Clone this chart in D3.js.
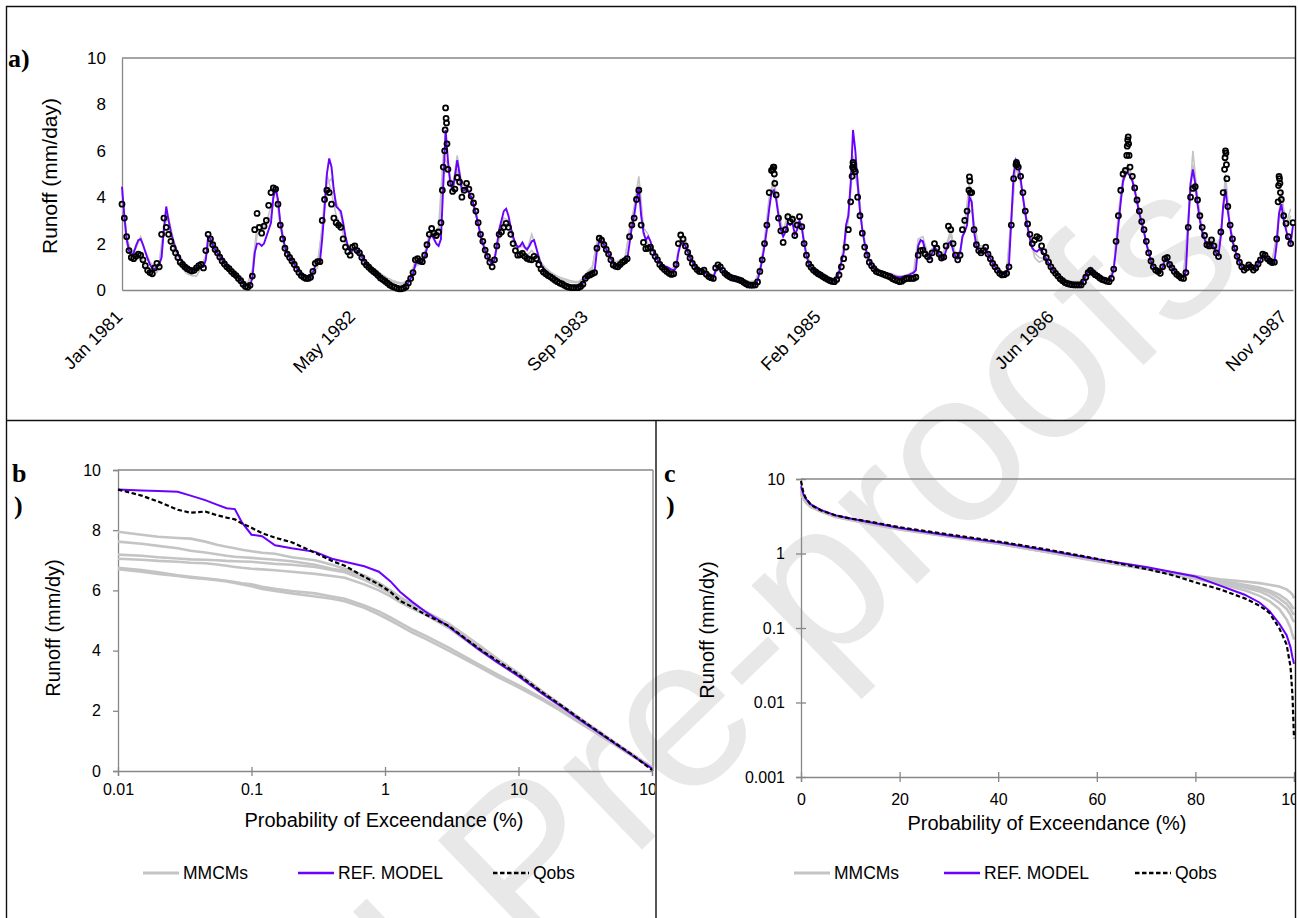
<!DOCTYPE html>
<html>
<head>
<meta charset="utf-8">
<script src="https://cdn.jsdelivr.net/npm/d3@7"></script>
<style>
  body { margin: 0; background: #fff; }
</style>
</head>
<body>
<svg id="figure" width="1298" height="918"></svg>
<script>
// ---------- data: a) hydrograph, one value every OBS_STEP_DAYS from SERIES_START ----------
const SERIES_START = '1981-01-01';
const OBS_STEP_DAYS = 5;
const obsRunoff = [
  3.7, 3.1, 2.3, 1.7, 1.4, 1.35, 1.45, 1.55, 1.5, 1.3,
  1.05, 0.85, 0.75, 0.7, 0.95, 1.15, 1.0, 2.4, 3.1, 2.7,
  2.4, 2.1, 1.8, 1.6, 1.4, 1.2, 1.1, 1.0, 0.92, 0.86,
  0.82, 0.85, 0.95, 1.05, 1.1, 0.95, 1.7, 2.4, 2.2, 1.95,
  1.75, 1.6, 1.42, 1.25, 1.12, 1.0, 0.92, 0.8, 0.7, 0.62,
  0.5, 0.4, 0.25, 0.15, 0.12, 0.2, 0.6, 2.6, 3.3, 2.7,
  2.45, 2.75, 3.0, 3.65, 4.2, 4.4, 4.35, 3.7, 2.8, 2.2,
  1.8, 1.55, 1.4, 1.25, 1.1, 0.9, 0.75, 0.62, 0.55, 0.5,
  0.5, 0.55, 0.8, 1.15, 1.22, 1.22, 3.0, 3.9, 4.3, 4.2,
  3.7, 3.1, 2.9, 2.8, 2.7, 2.2, 1.85, 1.65, 1.5, 1.85,
  1.9, 1.7, 1.6, 1.4, 1.2, 1.08, 0.98, 0.88, 0.8, 0.72,
  0.62, 0.52, 0.45, 0.38, 0.3, 0.22, 0.16, 0.12, 0.08, 0.05,
  0.05, 0.08, 0.14, 0.3, 0.5, 0.75, 1.3, 1.35, 1.25, 1.22,
  1.5, 1.95, 2.4, 2.65, 2.45, 2.35, 2.5, 2.9, 5.3, 7.85,
  5.2, 4.6, 4.25, 4.35, 4.85, 4.65, 4.0, 4.3, 4.6, 4.35,
  4.05, 3.75, 3.4, 2.9, 2.4, 2.1, 1.72, 1.45, 1.2, 1.0,
  1.3, 1.9, 2.4, 2.5, 2.7, 2.87, 2.7, 2.4, 2.0, 1.7,
  1.5, 1.52, 1.58, 1.45, 1.36, 1.32, 1.3, 1.45, 1.35, 1.1,
  0.9, 0.78, 0.7, 0.62, 0.57, 0.5, 0.42, 0.36, 0.3, 0.26,
  0.2, 0.15, 0.12, 0.1, 0.1, 0.1, 0.1, 0.15, 0.25, 0.5,
  0.6, 0.65, 0.7, 0.75, 1.8, 2.23, 2.15, 1.95, 1.75, 1.55,
  1.3, 1.08, 1.02, 1.0, 1.1, 1.2, 1.26, 1.35, 2.3, 2.8,
  3.1, 3.9, 4.3, 2.8, 2.05, 1.78, 1.8, 1.85, 1.62, 1.45,
  1.3, 1.1, 0.98, 0.88, 0.8, 0.72, 0.67, 0.7, 1.1, 2.0,
  2.37, 2.2, 1.9, 1.62, 1.38, 1.15, 1.0, 0.88, 0.8, 0.79,
  0.86, 0.68, 0.58, 0.53, 0.5, 0.95, 1.08, 1.0, 0.85, 0.72,
  0.64, 0.57, 0.52, 0.5, 0.47, 0.44, 0.4, 0.33, 0.27, 0.22,
  0.21, 0.21, 0.22, 0.35, 0.8, 1.3, 2.0, 2.8, 4.2, 5.15,
  5.3, 4.1, 3.1, 2.55, 2.05, 2.6, 3.16, 2.95, 3.05, 2.35,
  2.8, 3.16, 2.73, 2.0, 1.5, 1.12, 0.98, 0.86, 0.78, 0.7,
  0.65, 0.58, 0.52, 0.46, 0.41, 0.37, 0.36, 0.45, 0.65, 1.0,
  1.35, 1.85, 2.6, 3.8, 5.5, 5.1, 4.0, 3.2, 2.45, 1.85,
  1.5, 1.2, 1.05, 0.92, 0.8, 0.75, 0.72, 0.68, 0.64, 0.6,
  0.56, 0.48, 0.44, 0.4, 0.36, 0.38, 0.45, 0.5, 0.5, 0.5,
  0.5, 0.55, 1.5, 1.7, 1.72, 1.55, 1.44, 1.3, 1.6, 2.0,
  1.8, 1.55, 1.38, 1.42, 1.9, 2.75, 2.6, 2.0, 1.5, 1.3,
  1.5, 2.6, 3.0, 3.4, 4.88, 4.2, 2.6, 1.95, 1.7, 1.6,
  1.7, 1.85, 1.55, 1.35, 1.15, 1.0, 0.85, 0.72, 0.65, 0.66,
  0.72, 1.0, 2.8, 4.8, 5.4, 5.3, 4.9, 4.2, 3.4, 2.85,
  2.4, 2.0, 2.15, 2.3, 2.23, 1.9, 1.65, 1.4, 1.2, 1.0,
  0.84, 0.72, 0.6, 0.48, 0.4, 0.32, 0.28, 0.25, 0.23, 0.22,
  0.22, 0.22, 0.22, 0.35, 0.55, 0.75, 0.84, 0.75, 0.66, 0.6,
  0.52, 0.45, 0.42, 0.38, 0.36, 0.5, 0.9, 2.1, 3.2, 4.3,
  5.0, 5.15, 6.47, 5.3, 4.9, 4.4, 3.88, 3.4, 2.95, 2.6,
  2.1, 1.6, 1.25, 1.0, 0.86, 0.8, 0.72, 1.0, 1.35, 1.4,
  1.1, 0.95, 0.8, 0.68, 0.6, 0.52, 0.5, 0.75, 2.7, 4.0,
  4.38, 4.45, 3.88, 3.2, 2.7, 2.35, 1.95, 1.9, 2.16, 1.9,
  1.6, 1.44, 2.5, 4.2, 6.0, 3.6, 2.8, 2.2, 1.8, 1.45,
  1.2, 1.0, 0.86, 0.95, 1.08, 0.98, 0.86, 0.95, 1.12, 1.3,
  1.55, 1.5, 1.35, 1.25, 1.18, 1.2, 2.2, 4.9, 3.9, 3.2,
  2.87, 2.3, 2.0, 2.9
];
// extra daily observations read around the flood peaks (day offset from SERIES_START)
const obsPeakDays = [688, 693, 694, 696, 697, 698,
  1398, 1399, 1401, 1402, 1568, 1569, 1571, 1572, 1819, 1821, 1822, 1921, 1922,
  2158, 2159, 2161, 2162, 2163, 2368, 2369, 2371, 2372, 2373, 2483, 2484, 2486, 2487, 2488];
const obsPeakRunoff = [4.3, 6.0, 6.9, 7.4, 7.2, 6.3,
  5.2, 5.3, 5.0, 4.6, 4.9, 5.3, 5.4, 5.2, 4.3, 4.7, 4.2, 5.5, 5.4,
  5.8, 6.2, 6.6, 6.3, 5.8, 5.2, 5.7, 5.9, 5.4, 4.8, 3.8, 4.5, 4.8, 4.6, 4.2];
const refRunoff = [
  4.45, 3.2, 2.2, 1.7, 1.5, 1.6, 1.9, 2.15, 2.2, 1.95,
  1.65, 1.35, 1.1, 0.95, 0.9, 1.0, 1.1, 1.4, 2.6, 3.6,
  3.0, 2.5, 2.1, 1.8, 1.55, 1.35, 1.2, 1.08, 0.98, 0.9,
  0.85, 0.85, 0.9, 0.95, 1.0, 1.0, 1.3, 2.3, 2.2, 1.95,
  1.75, 1.6, 1.45, 1.3, 1.15, 1.02, 0.92, 0.8, 0.7, 0.62,
  0.52, 0.42, 0.3, 0.22, 0.18, 0.22, 0.5, 1.6, 2.0, 2.0,
  1.9, 2.0, 2.3, 2.6, 2.9, 4.0, 4.4, 3.9, 2.9, 2.3,
  1.85, 1.6, 1.42, 1.27, 1.12, 0.95, 0.8, 0.68, 0.6, 0.55,
  0.52, 0.55, 0.75, 1.05, 1.1, 1.2, 2.2, 3.5, 5.0, 5.67,
  5.3, 4.3, 3.6, 3.5, 3.4, 2.9, 2.3, 1.9, 1.65, 1.7,
  1.8, 1.7, 1.6, 1.45, 1.25, 1.12, 1.02, 0.92, 0.83, 0.75,
  0.66, 0.58, 0.5, 0.43, 0.36, 0.3, 0.25, 0.2, 0.16, 0.14,
  0.13, 0.15, 0.2, 0.32, 0.5, 0.7, 1.1, 1.2, 1.2, 1.2,
  1.4, 1.8, 2.2, 2.4, 2.2, 2.0, 1.9, 2.2, 4.5, 6.9,
  5.6, 4.6, 4.3, 4.9, 5.6, 5.0, 4.3, 4.3, 4.4, 4.2,
  4.0, 3.7, 3.3, 2.85, 2.35, 2.0, 1.7, 1.45, 1.25, 1.1,
  1.3, 1.9, 2.6, 3.0, 3.4, 3.5, 3.2, 2.7, 2.3, 2.0,
  1.85, 1.9, 2.05, 1.85, 1.75, 1.9, 2.1, 2.15, 1.8, 1.4,
  1.1, 0.95, 0.82, 0.72, 0.65, 0.57, 0.5, 0.43, 0.37, 0.32,
  0.27, 0.22, 0.18, 0.16, 0.15, 0.14, 0.14, 0.18, 0.3, 0.5,
  0.62, 0.68, 0.72, 0.8, 1.7, 2.1, 2.1, 1.95, 1.75, 1.55,
  1.35, 1.15, 1.05, 1.02, 1.05, 1.1, 1.2, 1.3, 2.0, 2.7,
  3.2, 3.9, 4.4, 3.2, 2.5, 2.15, 2.3, 2.1, 1.75, 1.5,
  1.3, 1.15, 1.05, 1.0, 1.0, 0.95, 0.88, 0.85, 0.95, 1.6,
  2.0, 2.05, 1.9, 1.65, 1.4, 1.2, 1.05, 0.93, 0.85, 0.8,
  0.82, 0.7, 0.6, 0.55, 0.52, 0.85, 1.0, 0.95, 0.82, 0.72,
  0.65, 0.58, 0.53, 0.5, 0.47, 0.44, 0.4, 0.34, 0.28, 0.24,
  0.22, 0.22, 0.24, 0.4, 0.8, 1.3, 1.9, 2.6, 3.5, 4.2,
  4.3, 3.9, 3.2, 2.6, 2.3, 2.5, 2.9, 2.8, 2.9, 2.4,
  2.6, 3.0, 2.7, 2.0, 1.5, 1.12, 0.98, 0.86, 0.78, 0.7,
  0.65, 0.58, 0.52, 0.46, 0.42, 0.4, 0.4, 0.5, 0.75, 1.2,
  1.6, 2.8, 3.2, 4.6, 6.9, 6.0, 4.6, 3.4, 2.6, 2.0,
  1.55, 1.25, 1.05, 0.93, 0.85, 0.8, 0.78, 0.75, 0.72, 0.7,
  0.68, 0.63, 0.6, 0.56, 0.55, 0.56, 0.6, 0.62, 0.65, 0.7,
  0.75, 0.85, 1.9, 2.15, 2.1, 1.7, 1.5, 1.35, 1.6, 1.85,
  1.7, 1.5, 1.35, 1.4, 1.7, 2.0, 2.1, 1.7, 1.45, 1.35,
  1.6, 2.3, 2.5, 2.8, 4.0, 3.8, 2.5, 1.9, 1.7, 1.6,
  1.7, 1.8, 1.55, 1.35, 1.15, 1.0, 0.87, 0.75, 0.68, 0.7,
  0.75, 1.1, 3.0, 5.0, 5.6, 5.4, 4.8, 4.0, 3.3, 2.7,
  2.2, 1.8, 1.7, 1.65, 1.75, 1.7, 1.55, 1.35, 1.15, 0.98,
  0.85, 0.74, 0.63, 0.52, 0.44, 0.37, 0.32, 0.29, 0.27, 0.26,
  0.26, 0.26, 0.27, 0.4, 0.6, 0.8, 0.88, 0.8, 0.7, 0.63,
  0.56, 0.5, 0.46, 0.43, 0.42, 0.55, 0.9, 1.8, 2.8, 3.8,
  4.7, 5.0, 5.05, 4.9, 4.7, 4.3, 3.8, 3.3, 2.9, 2.5,
  2.0, 1.6, 1.25, 1.0, 0.88, 0.8, 0.74, 0.95, 1.3, 1.35,
  1.1, 0.95, 0.82, 0.7, 0.62, 0.56, 0.55, 0.8, 2.8, 4.6,
  5.2, 4.6, 3.7, 3.0, 2.5, 2.2, 1.9, 1.85, 2.0, 1.85,
  1.6, 1.5, 2.3, 3.6, 4.35, 3.4, 2.7, 2.1, 1.75, 1.45,
  1.2, 1.0, 0.9, 0.98, 1.08, 1.0, 0.9, 0.97, 1.12, 1.3,
  1.5, 1.45, 1.32, 1.22, 1.15, 1.18, 2.0, 3.3, 3.7, 3.0,
  2.6, 2.2, 2.0, 2.8
];
const MMCM_STEP_DAYS = 10;
const mmcmRunoffA = [
  4.2, 2.3, 1.6, 1.8, 2.3, 1.7, 1.2, 1.0, 1.2, 2.8,
  3.1, 2.2, 1.6, 1.25, 1.0, 0.9, 0.95, 1.05, 1.4, 2.3,
  1.8, 1.5, 1.2, 0.98, 0.78, 0.6, 0.4, 0.3, 0.6, 2.4,
  2.6, 2.8, 3.2, 4.5, 3.0, 1.9, 1.5, 1.2, 0.88, 0.68,
  0.6, 0.8, 1.2, 2.6, 4.6, 4.8, 3.8, 3.2, 2.2, 1.7,
  1.85, 1.65, 1.3, 1.1, 0.92, 0.78, 0.65, 0.52, 0.42, 0.35,
  0.3, 0.35, 0.6, 1.3, 1.3, 1.6, 2.4, 2.3, 2.3, 5.0,
  5.2, 4.4, 5.8, 4.5, 4.6, 4.0, 3.4, 2.5, 1.8, 1.35,
  1.4, 2.4, 3.1, 3.0, 2.2, 1.8, 1.9, 1.7, 2.4, 1.8,
  1.2, 0.95, 0.78, 0.65, 0.55, 0.48, 0.42, 0.38, 0.36, 0.5,
  0.8, 1.0, 2.0, 2.3, 1.8, 1.4, 1.2, 1.3, 1.4, 2.5,
  3.6, 4.9, 2.7, 2.4, 1.8, 1.35, 1.1, 1.0, 0.9, 1.1,
  2.2, 2.0, 1.5, 1.1, 0.9, 0.85, 0.7, 0.65, 0.95, 0.85,
  0.7, 0.6, 0.55, 0.48, 0.4, 0.36, 0.4, 0.9, 2.0, 3.8,
  4.6, 3.3, 2.4, 3.0, 3.1, 2.7, 2.8, 1.6, 1.05, 0.85,
  0.72, 0.6, 0.52, 0.5, 0.85, 1.9, 3.3, 5.8, 4.8, 2.7,
  1.6, 1.1, 0.9, 0.82, 0.76, 0.72, 0.65, 0.6, 0.62, 0.68,
  0.8, 2.2, 2.3, 1.6, 1.7, 1.7, 1.45, 1.9, 2.6, 1.5,
  1.7, 2.9, 4.4, 2.6, 1.8, 1.8, 1.6, 1.2, 0.9, 0.72,
  0.8, 3.2, 5.3, 4.6, 3.4, 2.3, 1.4, 1.2, 1.3, 1.1,
  0.9, 0.7, 0.52, 0.42, 0.38, 0.36, 0.38, 0.7, 1.0, 0.75,
  0.62, 0.52, 0.5, 1.0, 3.0, 4.6, 5.2, 4.8, 3.9, 3.0,
  2.1, 1.35, 0.95, 0.8, 1.3, 1.15, 0.88, 0.7, 0.62, 3.2,
  6.0, 4.0, 2.7, 2.0, 2.1, 1.7, 2.4, 4.6, 2.8, 1.8,
  1.3, 1.0, 1.15, 1.0, 1.2, 1.6, 1.4, 1.25, 2.2, 4.0,
  2.8, 3.5
];
const mmcmRunoffB = [
  3.9, 2.0, 1.3, 1.4, 1.5, 1.0, 0.7, 0.65, 0.9, 2.6,
  2.6, 1.9, 1.25, 0.9, 0.7, 0.62, 0.6, 0.95, 1.5, 2.1,
  1.7, 1.4, 1.05, 0.85, 0.7, 0.55, 0.38, 0.28, 0.9, 2.8,
  2.7, 2.9, 3.6, 4.3, 2.7, 1.75, 1.35, 1.05, 0.78, 0.62,
  0.56, 0.75, 0.95, 2.8, 5.0, 4.2, 3.2, 2.8, 2.0, 1.6,
  1.7, 1.5, 1.25, 1.05, 0.88, 0.72, 0.56, 0.45, 0.36, 0.3,
  0.25, 0.3, 0.55, 1.0, 1.15, 1.5, 2.2, 2.5, 2.7, 5.8,
  5.4, 4.2, 5.2, 4.2, 4.4, 3.9, 3.2, 2.4, 1.75, 1.3,
  1.3, 2.2, 2.8, 2.9, 2.1, 1.6, 1.7, 1.5, 1.7, 1.5,
  1.05, 0.85, 0.7, 0.58, 0.48, 0.4, 0.35, 0.32, 0.3, 0.45,
  0.7, 0.9, 2.1, 2.2, 1.7, 1.3, 1.1, 1.1, 1.2, 2.6,
  3.4, 4.5, 2.4, 2.0, 1.7, 1.3, 1.05, 0.9, 0.8, 1.2,
  2.3, 2.2, 1.5, 1.05, 0.85, 0.8, 0.65, 0.6, 0.9, 0.8,
  0.66, 0.56, 0.5, 0.45, 0.38, 0.33, 0.36, 0.85, 2.2, 4.0,
  4.8, 3.4, 2.5, 3.3, 3.2, 2.9, 2.6, 1.55, 1.0, 0.8,
  0.68, 0.56, 0.48, 0.45, 0.7, 1.7, 3.0, 5.4, 4.4, 2.6,
  1.5, 1.05, 0.85, 0.76, 0.7, 0.62, 0.55, 0.5, 0.55, 0.6,
  0.65, 2.0, 2.1, 1.5, 1.8, 1.8, 1.5, 1.8, 2.4, 1.45,
  1.6, 2.8, 4.6, 2.9, 1.9, 1.9, 1.6, 1.15, 0.88, 0.7,
  0.78, 2.9, 5.5, 4.7, 3.3, 2.2, 1.6, 1.4, 1.35, 1.1,
  0.88, 0.66, 0.5, 0.4, 0.35, 0.33, 0.34, 0.6, 0.9, 0.72,
  0.6, 0.5, 0.48, 0.95, 3.3, 4.9, 5.4, 4.9, 3.8, 2.9,
  2.0, 1.3, 0.92, 0.8, 1.4, 1.1, 0.85, 0.68, 0.6, 3.0,
  5.4, 3.8, 2.6, 2.0, 2.2, 1.6, 2.4, 5.0, 2.7, 1.75,
  1.25, 0.95, 1.1, 0.95, 1.15, 1.55, 1.35, 1.2, 2.4, 4.3,
  2.6, 3.2
];
const dateTickDays = ['1981-01-01', '1982-05-16', '1983-09-28', '1985-02-09', '1986-06-24', '1987-11-06'];
const dateTickLabels = ['Jan 1981', 'May 1982', 'Sep 1983', 'Feb 1985', 'Jun 1986', 'Nov 1987'];
const runoffTicks = [0, 2, 4, 6, 8, 10];

// ---------- data: b) flow duration curve, log exceedance axis ----------
const fdcProbLog = [0.01, 0.015, 0.02, 0.028, 0.035, 0.045, 0.055, 0.065, 0.075, 0.085,
  0.1, 0.12, 0.15, 0.2, 0.3, 0.4, 0.5, 0.7, 0.9, 1.1, 1.3, 1.6, 2, 3, 5, 7, 10, 15, 20, 30, 50, 70, 100];
const fdcRefLog = [9.35, 9.32, 9.3, 9.28, 9.15, 9.0, 8.85, 8.73, 8.7, 8.25,
  7.85, 7.8, 7.5, 7.4, 7.28, 7.05, 6.95, 6.8, 6.62, 6.3, 5.95, 5.62, 5.3, 4.8, 4.05, 3.6, 3.15, 2.58, 2.2, 1.65, 0.98, 0.54, 0.08];
const fdcObsLog = [9.35, 9.15, 8.95, 8.68, 8.58, 8.62, 8.5, 8.42, 8.36, 8.22,
  8.08, 7.9, 7.75, 7.6, 7.25, 6.98, 6.82, 6.45, 6.2, 5.95, 5.65, 5.45, 5.2, 4.82, 4.08, 3.65, 3.2, 2.62, 2.24, 1.68, 1.0, 0.56, 0.03];
const fdcMmcmLog1 = [7.95, 7.85, 7.78, 7.74, 7.72, 7.62, 7.52, 7.45, 7.4, 7.35,
  7.3, 7.25, 7.22, 7.1, 7.0, 6.85, 6.72, 6.5, 6.25, 6.0, 5.75, 5.5, 5.3, 4.9, 4.2, 3.72, 3.25, 2.66, 2.26, 1.7, 1.02, 0.58, 0.13];
const fdcMmcmLog2 = [7.62, 7.55, 7.48, 7.4, 7.32, 7.26, 7.2, 7.15, 7.12, 7.1,
  7.08, 7.05, 7.02, 6.97, 6.85, 6.72, 6.65, 6.45, 6.22, 6.0, 5.78, 5.55, 5.3, 4.85, 4.15, 3.68, 3.2, 2.62, 2.23, 1.67, 1.0, 0.56, 0.12];
const fdcMmcmLog3 = [7.19, 7.15, 7.1, 7.06, 7.03, 7.02, 7.0, 6.98, 6.97, 6.96,
  6.95, 6.92, 6.88, 6.85, 6.78, 6.68, 6.6, 6.35, 6.12, 5.9, 5.7, 5.48, 5.25, 4.8, 4.1, 3.65, 3.18, 2.6, 2.2, 1.65, 0.98, 0.55, 0.12];
const fdcMmcmLog4 = [7.05, 7.02, 6.98, 6.95, 6.92, 6.9, 6.86, 6.82, 6.78, 6.75,
  6.72, 6.7, 6.67, 6.62, 6.55, 6.48, 6.42, 6.2, 6.0, 5.8, 5.6, 5.4, 5.2, 4.75, 4.05, 3.6, 3.15, 2.58, 2.18, 1.63, 0.97, 0.54, 0.1];
const fdcMmcmLog5 = [6.75, 6.68, 6.6, 6.5, 6.45, 6.4, 6.36, 6.32, 6.28, 6.24,
  6.2, 6.12, 6.05, 5.98, 5.9, 5.8, 5.72, 5.5, 5.3, 5.1, 4.92, 4.7, 4.5, 4.1, 3.55, 3.2, 2.85, 2.42, 2.08, 1.58, 0.95, 0.53, 0.1];
const fdcMmcmLog6 = [6.7, 6.62, 6.55, 6.48, 6.42, 6.38, 6.34, 6.3, 6.25, 6.2,
  6.14, 6.05, 5.98, 5.9, 5.8, 5.72, 5.64, 5.42, 5.2, 5.0, 4.82, 4.6, 4.4, 4.0, 3.48, 3.12, 2.78, 2.36, 2.04, 1.55, 0.93, 0.52, 0.1];
const probTicksLog = [0.01, 0.1, 1, 10, 100];
const probTickLabelsLog = ['0.01', '0.1', '1', '10', '100'];

// ---------- data: c) flow duration curve, log runoff axis ----------
const fdcProbLin = [0, 0.5, 1, 2, 4, 7, 10, 15, 20, 30, 40, 50, 60, 70, 75, 80, 85, 90, 93, 95, 97, 98.5, 99.3, 99.7, 100];
const fdcRefLin = [8.0, 6.2, 5.4, 4.55, 3.85, 3.25, 2.95, 2.55, 2.2, 1.75, 1.41, 1.1, 0.84, 0.66, 0.57, 0.49, 0.37, 0.28, 0.22, 0.17, 0.115, 0.08, 0.055, 0.04, 0.033];
const fdcObsLin = [9.4, 6.5, 5.5, 4.5, 3.8, 3.25, 2.95, 2.6, 2.25, 1.8, 1.45, 1.13, 0.85, 0.62, 0.52, 0.41, 0.33, 0.25, 0.2, 0.16, 0.1, 0.06, 0.03, 0.012, 0.0033];
const fdcMmcmLin1 = [6.5, 5.6, 5.0, 4.3, 3.7, 3.15, 2.85, 2.45, 2.12, 1.7, 1.36, 1.05, 0.8, 0.63, 0.56, 0.5, 0.45, 0.42, 0.4, 0.38, 0.36, 0.33, 0.3, 0.28, 0.25];
const fdcMmcmLin2 = [7.0, 5.8, 5.1, 4.4, 3.75, 3.2, 2.9, 2.5, 2.15, 1.72, 1.38, 1.07, 0.82, 0.64, 0.56, 0.49, 0.43, 0.38, 0.35, 0.32, 0.28, 0.24, 0.21, 0.19, 0.18];
const fdcMmcmLin3 = [6.2, 5.4, 4.8, 4.2, 3.65, 3.1, 2.82, 2.42, 2.1, 1.68, 1.35, 1.04, 0.79, 0.62, 0.54, 0.47, 0.41, 0.35, 0.31, 0.27, 0.22, 0.18, 0.15, 0.13, 0.12];
const fdcMmcmLin4 = [7.5, 6.0, 5.2, 4.45, 3.8, 3.2, 2.9, 2.5, 2.16, 1.73, 1.38, 1.06, 0.81, 0.62, 0.53, 0.46, 0.39, 0.32, 0.27, 0.23, 0.18, 0.13, 0.1, 0.08, 0.07];
const fdcMmcmLin5 = [6.8, 5.7, 5.0, 4.35, 3.72, 3.15, 2.87, 2.48, 2.13, 1.7, 1.36, 1.05, 0.8, 0.63, 0.55, 0.48, 0.42, 0.37, 0.33, 0.3, 0.25, 0.21, 0.18, 0.16, 0.15];
const probTicksLin = [0, 20, 40, 60, 80, 100];
const runoffTicksLog = [0.001, 0.01, 0.1, 1, 10];
const runoffTickLabelsLog = ['0.001', '0.01', '0.1', '1', '10'];

const legendLabels = ['MMCMs', 'REF. MODEL', 'Qobs'];

// ---------- styles ----------
const FONT = '"Liberation Sans", Arial, Helvetica, sans-serif';
const SERIF = '"Liberation Serif", "Times New Roman", serif';
const COLORS = {
    mmcm: '#c4c4c4',
    ref: '#6a00ff',
    obs: '#000000',
    axis: '#878787',
    frame: '#111111',
    watermark: '#e8e8e8'
};

const svg = d3.select('#figure');
const parseDay = d3.utcParse('%Y-%m-%d');
const t0 = parseDay(SERIES_START);

const defs = svg.append('defs');
function addClip(id, x, y, w, h) {
    defs.append('clipPath').attr('id', id)
        .append('rect').attr('x', x).attr('y', y).attr('width', w).attr('height', h);
}

function styleAxis(g, size) {
    g.attr('font-family', FONT).attr('font-size', size);
    g.selectAll('.domain').attr('stroke', COLORS.axis).attr('stroke-width', 1.3);
    g.selectAll('.tick line').attr('stroke', COLORS.axis).attr('stroke-width', 1.3);
    g.selectAll('.tick text').attr('fill', '#000');
}

function hline(x1, x2, y, color, w) {
    svg.append('line').attr('x1', x1).attr('x2', x2).attr('y1', y).attr('y2', y)
        .attr('stroke', color).attr('stroke-width', w);
}
function vline(x, y1, y2, color, w) {
    svg.append('line').attr('x1', x).attr('x2', x).attr('y1', y1).attr('y2', y2)
        .attr('stroke', color).attr('stroke-width', w);
}

// watermark behind everything
svg.append('text')
    .attr('transform', 'translate(1250,262) rotate(-44)')
    .attr('text-anchor', 'end')
    .attr('font-family', FONT)
    .attr('font-size', 215)
    .attr('fill', COLORS.watermark)
    .text('Journal Pre-proofs');

// ================= panel a =================
const A = { left: 122, right: 1293, top: 58, bottom: 290 };
addClip('clipA', A.left - 4, A.top - 4, 1295 - A.left + 4, A.bottom - A.top + 7);

const xA = d3.scaleUtc()
    .domain([t0, d3.utcDay.offset(t0, 2515)])
    .range([A.left, A.right]);
const yA = d3.scaleLinear().domain([0, 10]).range([A.bottom, A.top]);

hline(A.left, 1295, A.top, COLORS.axis, 1.3);

const gAy = svg.append('g')
    .attr('transform', `translate(${A.left},0)`)
    .call(d3.axisLeft(yA).tickValues(runoffTicks).tickSize(0).tickPadding(16));
styleAxis(gAy, 17);

const gAx = svg.append('g')
    .attr('transform', `translate(0,${A.bottom})`)
    .call(d3.axisBottom(xA)
        .tickValues(dateTickDays.map(parseDay))
        .tickFormat((d, i) => dateTickLabels[i])
        .tickSize(0));
styleAxis(gAx, 18);
gAx.selectAll('.tick text')
    .attr('y', 0).attr('dy', 0)
    .attr('text-anchor', 'end')
    .attr('transform', 'translate(1,28) rotate(-45)');

const plotA = svg.append('g').attr('clip-path', 'url(#clipA)');
const lineA = d3.line().x((d) => xA(d[0])).y((d) => yA(d[1]));
const toSeries = (values, step) => values.map((v, i) => [d3.utcDay.offset(t0, i * step), v]);

[mmcmRunoffA, mmcmRunoffB].forEach((s) => {
    plotA.append('path')
        .datum(toSeries(s, MMCM_STEP_DAYS))
        .attr('d', lineA)
        .attr('fill', 'none')
        .attr('stroke', COLORS.mmcm)
        .attr('stroke-width', 1.6);
});

plotA.append('path')
    .datum(toSeries(refRunoff, OBS_STEP_DAYS))
    .attr('d', lineA)
    .attr('fill', 'none')
    .attr('stroke', COLORS.ref)
    .attr('stroke-width', 1.9);

const obsPoints = toSeries(obsRunoff, OBS_STEP_DAYS)
    .concat(obsPeakDays.map((d, i) => [d3.utcDay.offset(t0, d), obsPeakRunoff[i]]));

plotA.selectAll('circle.obs')
    .data(obsPoints)
    .enter()
    .append('circle')
    .attr('class', 'obs')
    .attr('cx', (d) => xA(d[0]))
    .attr('cy', (d) => yA(d[1]))
    .attr('r', 2.5)
    .attr('fill', 'none')
    .attr('stroke', COLORS.obs)
    .attr('stroke-width', 1.8);

svg.append('text')
    .attr('transform', 'translate(50,176) rotate(-90)')
    .attr('text-anchor', 'middle').attr('dy', '0.35em')
    .attr('font-family', FONT).attr('font-size', 21)
    .text('Runoff (mm/day)');

svg.append('text').attr('x', 8).attr('y', 67)
    .attr('font-family', SERIF).attr('font-weight', 'bold').attr('font-size', 26)
    .text('a)');

// ---------- shared legend ----------
function drawLegend(starts, y) {
    const styles = [
        { color: COLORS.mmcm, width: 3, dash: null },
        { color: COLORS.ref, width: 2.4, dash: null },
        { color: COLORS.obs, width: 2.4, dash: '4.5,2.5' }
    ];
    legendLabels.forEach((label, i) => {
        const g = svg.append('g').attr('transform', `translate(${starts[i]},${y})`);
        g.append('line').attr('x1', 0).attr('x2', 36).attr('y1', 0).attr('y2', 0)
            .attr('stroke', styles[i].color).attr('stroke-width', styles[i].width)
            .attr('stroke-dasharray', styles[i].dash);
        g.append('text').attr('x', 40).attr('dy', '0.35em')
            .attr('font-family', FONT).attr('font-size', 17.5)
            .text(label);
    });
}

// ================= panel b =================
const B = { left: 118, right: 652, top: 470, bottom: 771 };
addClip('clipB', 0, 421, 655, 497);
const xB = d3.scaleLog().domain([0.01, 100]).range([B.left, B.right]);
const yB = d3.scaleLinear().domain([0, 10]).range([B.bottom, B.top]);
const panelB = svg.append('g').attr('clip-path', 'url(#clipB)');

panelB.append('line').attr('x1', B.left).attr('x2', B.right + 1).attr('y1', B.top).attr('y2', B.top)
    .attr('stroke', COLORS.axis).attr('stroke-width', 1.3);
panelB.append('line').attr('x1', B.right + 1).attr('x2', B.right + 1).attr('y1', B.top).attr('y2', B.bottom)
    .attr('stroke', COLORS.axis).attr('stroke-width', 1.3);

const gBy = panelB.append('g')
    .attr('transform', `translate(${B.left},0)`)
    .call(d3.axisLeft(yB).tickValues(runoffTicks).tickSize(5).tickPadding(12));
styleAxis(gBy, 16);

const gBx = panelB.append('g')
    .attr('transform', `translate(0,${B.bottom})`)
    .call(d3.axisBottom(xB).tickValues(probTicksLog)
        .tickFormat((d, i) => probTickLabelsLog[i]).tickSize(5).tickPadding(8));
styleAxis(gBx, 16);
gBx.selectAll('.tick line').attr('y1', -4);

const lineB = d3.line().x((d) => xB(d[0])).y((d) => yB(d[1]));
[fdcMmcmLog1, fdcMmcmLog2, fdcMmcmLog3, fdcMmcmLog4, fdcMmcmLog5, fdcMmcmLog6].forEach((s) => {
    panelB.append('path').datum(d3.zip(fdcProbLog, s)).attr('d', lineB)
        .attr('fill', 'none').attr('stroke', COLORS.mmcm).attr('stroke-width', 2.6);
});
panelB.append('path').datum(d3.zip(fdcProbLog, fdcRefLog)).attr('d', lineB)
    .attr('fill', 'none').attr('stroke', COLORS.ref).attr('stroke-width', 2);
panelB.append('path').datum(d3.zip(fdcProbLog, fdcObsLog)).attr('d', lineB)
    .attr('fill', 'none').attr('stroke', COLORS.obs).attr('stroke-width', 2.2)
    .attr('stroke-dasharray', '4.5,2.5');

svg.append('text')
    .attr('transform', 'translate(53,628) rotate(-90)')
    .attr('text-anchor', 'middle').attr('dy', '0.35em')
    .attr('font-family', FONT).attr('font-size', 20)
    .text('Runoff (mm/dy)');
svg.append('text').attr('x', 384).attr('y', 820)
    .attr('text-anchor', 'middle').attr('dy', '0.35em')
    .attr('font-family', FONT).attr('font-size', 20)
    .text('Probability of Exceendance (%)');
svg.append('text').attr('x', 12).attr('y', 482)
    .attr('font-family', SERIF).attr('font-weight', 'bold').attr('font-size', 26).text('b');
svg.append('text').attr('x', 14).attr('y', 514)
    .attr('font-family', SERIF).attr('font-weight', 'bold').attr('font-size', 26).text(')');
drawLegend([143, 298, 493], 873);

// ================= panel c =================
const C = { left: 801, right: 1294, top: 479, bottom: 777 };
addClip('clipC', 657, 421, 638, 497);
const xC = d3.scaleLinear().domain([0, 100]).range([C.left, C.right]);
const yC = d3.scaleLog().domain([0.001, 10]).range([C.bottom, C.top]);
const panelC = svg.append('g').attr('clip-path', 'url(#clipC)');

panelC.append('line').attr('x1', C.left).attr('x2', 1295).attr('y1', C.top).attr('y2', C.top)
    .attr('stroke', COLORS.axis).attr('stroke-width', 1.3);

const gCy = panelC.append('g')
    .attr('transform', `translate(${C.left},0)`)
    .call(d3.axisLeft(yC).tickValues(runoffTicksLog)
        .tickFormat((d, i) => runoffTickLabelsLog[i]).tickSize(5).tickPadding(11));
styleAxis(gCy, 16);
gCy.selectAll('.tick line').attr('x1', 5);

const gCx = panelC.append('g')
    .attr('transform', `translate(0,${C.bottom})`)
    .call(d3.axisBottom(xC).tickValues(probTicksLin).tickSize(5).tickPadding(12));
styleAxis(gCx, 16);
gCx.selectAll('.tick line').attr('y1', -5);

const lineC = d3.line().x((d) => xC(d[0])).y((d) => yC(d[1]));
[fdcMmcmLin1, fdcMmcmLin2, fdcMmcmLin3, fdcMmcmLin4, fdcMmcmLin5].forEach((s) => {
    panelC.append('path').datum(d3.zip(fdcProbLin, s)).attr('d', lineC)
        .attr('fill', 'none').attr('stroke', COLORS.mmcm).attr('stroke-width', 2.6);
});
panelC.append('path').datum(d3.zip(fdcProbLin, fdcRefLin)).attr('d', lineC)
    .attr('fill', 'none').attr('stroke', COLORS.ref).attr('stroke-width', 2);
panelC.append('path').datum(d3.zip(fdcProbLin, fdcObsLin)).attr('d', lineC)
    .attr('fill', 'none').attr('stroke', COLORS.obs).attr('stroke-width', 2.2)
    .attr('stroke-dasharray', '4.5,2.5');

svg.append('text')
    .attr('transform', 'translate(707,630) rotate(-90)')
    .attr('text-anchor', 'middle').attr('dy', '0.35em')
    .attr('font-family', FONT).attr('font-size', 20)
    .text('Runoff (mm/dy)');
svg.append('text').attr('x', 1047).attr('y', 823)
    .attr('text-anchor', 'middle').attr('dy', '0.35em')
    .attr('font-family', FONT).attr('font-size', 20)
    .text('Probability of Exceendance (%)');
svg.append('text').attr('x', 664).attr('y', 482)
    .attr('font-family', SERIF).attr('font-weight', 'bold').attr('font-size', 26).text('c');
svg.append('text').attr('x', 666).attr('y', 514)
    .attr('font-family', SERIF).attr('font-weight', 'bold').attr('font-size', 26).text(')');
drawLegend([794, 944, 1135], 873);

// ---------- outer frame and panel dividers ----------
hline(6, 1296, 6.5, COLORS.frame, 1.4);
vline(6.5, 6, 918, COLORS.frame, 1.4);
vline(1295.5, 6, 918, COLORS.frame, 1.4);
hline(6, 1296, 420.5, COLORS.frame, 1.4);
vline(656, 420, 918, COLORS.frame, 1.4);
</script>
</body>
</html>
